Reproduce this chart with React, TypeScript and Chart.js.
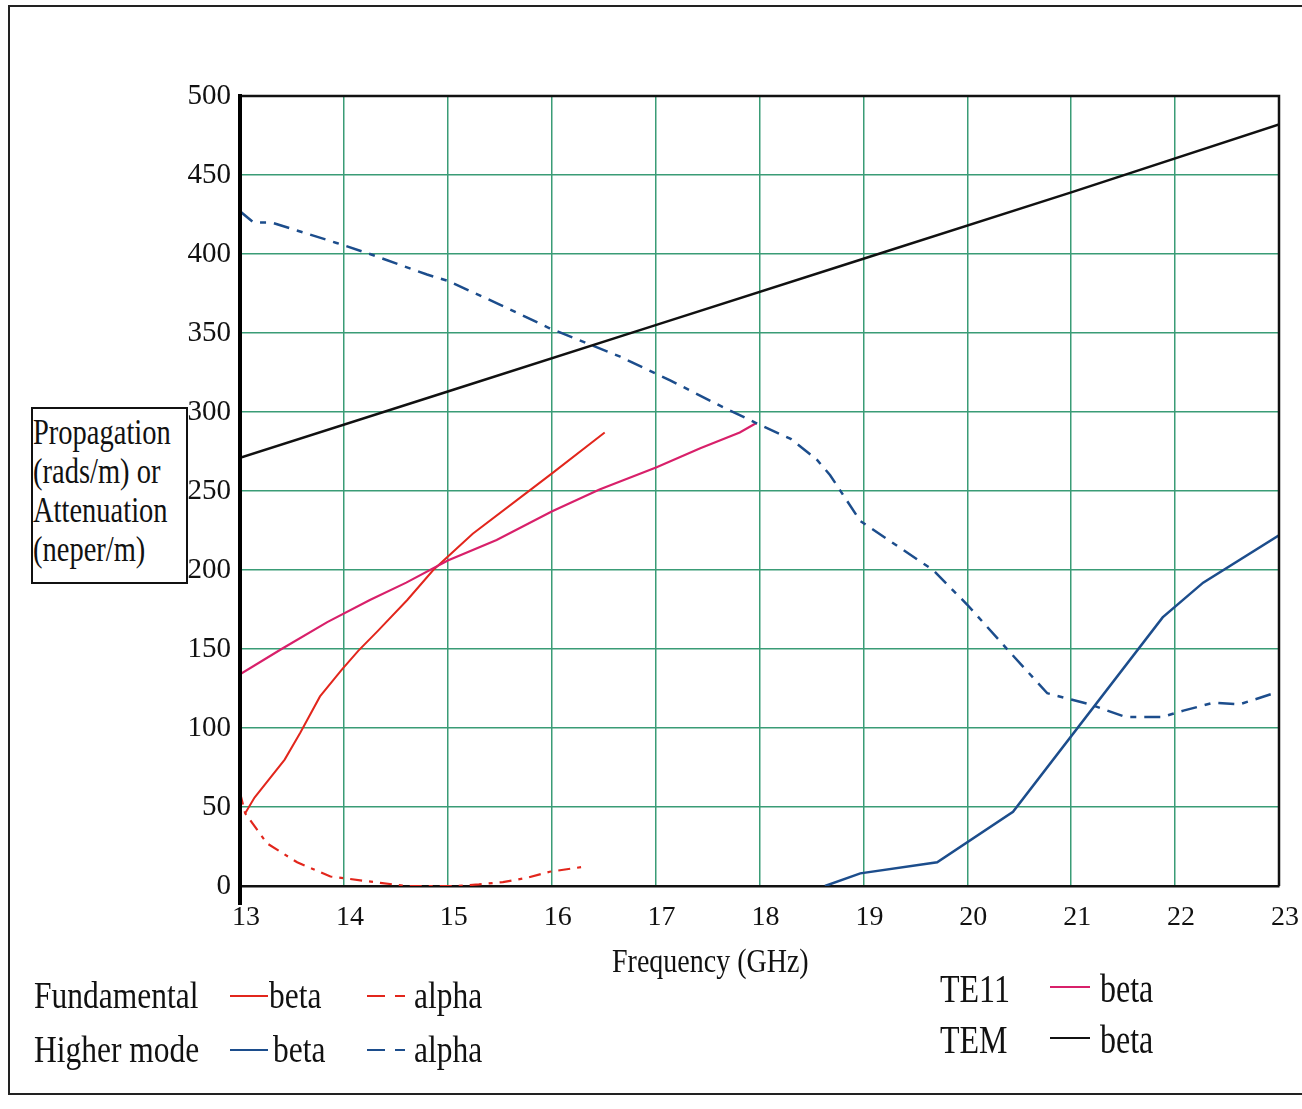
import React, { useEffect, useRef } from 'react';
import { Chart, registerables } from 'chart.js';

Chart.register(...registerables);

// ---------- data (GHz, value) ----------
const xTicks = [13, 14, 15, 16, 17, 18, 19, 20, 21, 22, 23];
const yTicks = [0, 50, 100, 150, 200, 250, 300, 350, 400, 450, 500];

const fundBetaFreq = [13.05, 13.14, 13.43, 13.58, 13.77, 13.98, 14.14, 14.32, 14.61, 14.86, 15.24, 15.76, 16.0, 16.51];
const fundBetaVal = [46, 56, 80, 97, 120, 137, 149, 161, 181, 200, 223, 249, 261, 287];

const fundAlphaFreq = [13.0, 13.05, 13.26, 13.55, 13.87, 14.35, 14.6, 14.85, 15.09, 15.3, 15.53, 15.75, 15.98, 16.34];
const fundAlphaVal = [59, 46, 27, 15, 6, 2, 0, 0, 0, 1, 2.5, 5, 9, 12.5];

const highBetaFreq = [18.63, 18.97, 19.71, 20.44, 21.88, 22.27, 23.0];
const highBetaVal = [0, 8, 15, 47, 170, 192, 222];

const highAlphaFreq = [13.0, 13.13, 13.3, 13.93, 14.25, 14.8, 15.0, 15.5, 15.98, 16.66, 17.14, 17.62, 18.0, 18.3, 18.55, 18.68, 18.97, 19.67, 20.0, 20.41, 20.77, 21.0, 21.18, 21.52, 21.88, 22.08, 22.37, 22.62, 23.0];
const highAlphaVal = [427, 420, 420, 407, 400, 387, 383, 368, 353, 335, 320, 304, 292, 283, 270, 260, 231, 200, 178, 148, 122, 118, 115, 107, 107, 111, 116, 115, 123];

const te11Freq = [13.0, 13.4, 13.84, 14.25, 14.6, 15.0, 15.47, 16.0, 16.46, 17.01, 17.43, 17.81, 17.97];
const te11Val = [134, 150, 167, 181, 192, 206, 219, 237, 251, 265, 277, 287, 293];

const temFreq = [13, 15, 17, 19, 21, 23];
const temVal = [271, 313, 355, 397, 439, 482];

// ---------- styles ----------
const RED = '#e2261c';
const PINK = '#d8206a';
const BLUE = '#1c4d8c';
const BLACK = '#111111';
const GRID = '#3a9c76';
const FONT = "'Liberation Serif', 'Times New Roman', serif";

const pts = (xs: number[], ys: number[]) => xs.map((x, i) => ({ x, y: ys[i] }));

const framePlugin = {
  id: 'plotFrame',
  afterDatasetsDraw(chart: any) {
    const { ctx, chartArea: a } = chart;
    ctx.save();
    ctx.strokeStyle = '#111';
    ctx.lineWidth = 2.5;
    ctx.beginPath();
    ctx.moveTo(a.left, a.top);
    ctx.lineTo(a.right, a.top);
    ctx.lineTo(a.right, a.bottom);
    ctx.stroke();
    ctx.strokeStyle = '#000';
    ctx.lineWidth = 4;
    ctx.beginPath();
    ctx.moveTo(a.left, a.top - 2);
    ctx.lineTo(a.left, a.bottom + 19);
    ctx.stroke();
    ctx.restore();
  },
};

type TxtProps = { x: number; base: number; size: number; sx?: number; sy?: number; children: React.ReactNode };
function Txt({ x, base, size, sx = 1, sy = 1.22, children }: TxtProps) {
  return (
    <div
      style={{
        position: 'absolute',
        left: x,
        top: base - 0.8375 * size * sy,
        fontFamily: FONT,
        fontSize: size,
        lineHeight: `${size}px`,
        whiteSpace: 'nowrap',
        color: '#111',
        transform: `scale(${sx}, ${sy})`,
        transformOrigin: 'left top',
      }}
    >
      {children}
    </div>
  );
}

function Seg({ x1, x2, y, color, dash }: { x1: number; x2: number; y: number; color: string; dash?: boolean }) {
  if (!dash) {
    return <div style={{ position: 'absolute', left: x1, top: y - 1.25, width: x2 - x1, height: 2.5, background: color }} />;
  }
  const w = x2 - x1;
  return (
    <>
      <div style={{ position: 'absolute', left: x1, top: y - 1.25, width: w * 0.48, height: 2.5, background: color }} />
      <div style={{ position: 'absolute', left: x1 + w * 0.74, top: y - 1.25, width: w * 0.26, height: 2.5, background: color }} />
    </>
  );
}

export default function App() {
  const ref = useRef<HTMLCanvasElement | null>(null);

  useEffect(() => {
    if (!ref.current) return;
    const chart = new Chart(ref.current, {
      type: 'line',
      data: {
        datasets: [
          { label: 'TEM beta', data: pts(temFreq, temVal), borderColor: BLACK, borderWidth: 2.5 },
          { label: 'Higher mode alpha', data: pts(highAlphaFreq, highAlphaVal), borderColor: BLUE, borderWidth: 2.5, borderDash: [16, 8, 6, 8] },
          { label: 'Higher mode beta', data: pts(highBetaFreq, highBetaVal), borderColor: BLUE, borderWidth: 2.5 },
          { label: 'TE11 beta', data: pts(te11Freq, te11Val), borderColor: PINK, borderWidth: 2.2 },
          { label: 'Fundamental alpha', data: pts(fundAlphaFreq, fundAlphaVal), borderColor: RED, borderWidth: 2.2, borderDash: [12, 7, 4, 7] },
          { label: 'Fundamental beta', data: pts(fundBetaFreq, fundBetaVal), borderColor: RED, borderWidth: 2 },
        ],
      },
      options: {
        animation: false,
        responsive: false,
        devicePixelRatio: 1,
        elements: { point: { radius: 0 }, line: { tension: 0 } },
        layout: { padding: { top: 96, right: 23, bottom: 163, left: 0 } },
        plugins: { legend: { display: false }, tooltip: { enabled: false }, title: { display: false } },
        scales: {
          x: {
            type: 'linear',
            min: xTicks[0],
            max: xTicks[xTicks.length - 1],
            afterBuildTicks: (s: any) => { s.ticks = xTicks.map((v) => ({ value: v })); },
            ticks: { font: { family: FONT, size: 28 }, color: '#111', padding: 15, labelOffset: 6, maxRotation: 0, autoSkip: false },
            grid: {
              color: (c: any) => (c.tick && (c.tick.value === 13 || c.tick.value === 23) ? 'rgba(0,0,0,0)' : GRID),
              lineWidth: 1.5,
              drawTicks: false,
            },
            border: { color: '#111', width: 2.5 },
            afterFit: (s: any) => { s.height = 60; s.paddingLeft = 0; s.paddingRight = 0; },
          },
          y: {
            type: 'linear',
            min: yTicks[0],
            max: yTicks[yTicks.length - 1],
            afterBuildTicks: (s: any) => { s.ticks = yTicks.map((v) => ({ value: v })); },
            ticks: { font: { family: FONT, size: 29 }, color: '#111', padding: 9 },
            grid: {
              color: (c: any) => (c.tick && (c.tick.value === 0 || c.tick.value === 500) ? 'rgba(0,0,0,0)' : GRID),
              lineWidth: 1.5,
              drawTicks: false,
            },
            border: { color: '#000', width: 4 },
            afterFit: (s: any) => { s.width = 240; s.paddingTop = 0; s.paddingBottom = 0; },
          },
        },
      },
      plugins: [framePlugin],
    } as any);
    return () => chart.destroy();
  }, []);

  return (
    <div style={{ position: 'absolute', left: 0, top: 0, width: 1302, height: 1109, background: '#fff' }}>
      {/* outer frame */}
      <div style={{ position: 'absolute', left: 8, top: 5, width: 1296, height: 1090, border: '2px solid #222', boxSizing: 'border-box' }} />
      <canvas ref={ref} width={1302} height={1109} style={{ position: 'absolute', left: 0, top: 0, width: 1302, height: 1109 }} />

      {/* y-axis title box */}
      <div style={{ position: 'absolute', left: 31, top: 407, width: 157, height: 177, border: '2px solid #111', boxSizing: 'border-box', background: '#fff' }} />
      <Txt x={33} base={445} size={28.5}>Propagation</Txt>
      <Txt x={33} base={484} size={28.5}>(rads/m) or</Txt>
      <Txt x={33} base={523} size={28.5}>Attenuation</Txt>
      <Txt x={33} base={562} size={28.5}>(neper/m)</Txt>

      {/* x-axis title */}
      <Txt x={612} base={973} size={28}>Frequency (GHz)</Txt>

      {/* legend, left block */}
      <Txt x={34} base={1008} size={31.5}>Fundamental</Txt>
      <Seg x1={230} x2={268} y={996} color={RED} />
      <Txt x={269} base={1008} size={31.5}>beta</Txt>
      <Seg x1={367} x2={405} y={996} color={RED} dash />
      <Txt x={414} base={1008} size={31.5}>alpha</Txt>

      <Txt x={34} base={1062} size={31.5}>Higher mode</Txt>
      <Seg x1={230} x2={268} y={1050} color={BLUE} />
      <Txt x={273} base={1062} size={31.5}>beta</Txt>
      <Seg x1={367} x2={405} y={1050} color={BLUE} dash />
      <Txt x={414} base={1062} size={31.5}>alpha</Txt>

      {/* legend, right block */}
      <Txt x={940} base={1002} size={32}>TE11</Txt>
      <Seg x1={1050} x2={1090} y={987} color={PINK} />
      <Txt x={1100} base={1002} size={32}>beta</Txt>

      <Txt x={940} base={1053} size={32}>TEM</Txt>
      <Seg x1={1050} x2={1090} y={1038} color={BLACK} />
      <Txt x={1100} base={1053} size={32}>beta</Txt>
    </div>
  );
}
